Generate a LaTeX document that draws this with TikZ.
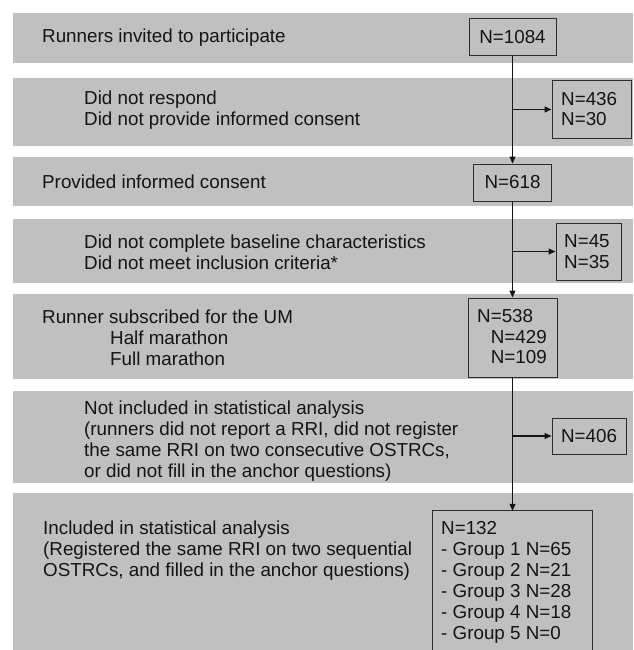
\documentclass[tikz,border=0pt]{standalone}
\usepackage{fontspec}
\setmainfont{Liberation Sans}
\usetikzlibrary{arrows.meta}
\definecolor{bandgray}{RGB}{192,192,192}
\definecolor{boxline}{RGB}{45,45,45}
\definecolor{arrowcol}{RGB}{20,20,20}
\newcommand\diagfont{\fontsize{18.8}{21}\selectfont}
\begin{document}
\begin{tikzpicture}[x=1pt,y=-1pt,
  txt/.style={anchor=base west, inner sep=0pt, font=\diagfont, text=black!92},
  txtr/.style={anchor=base east, inner sep=0pt, font=\diagfont, text=black!92},
  nbox/.style={draw=boxline, line width=1pt, fill=bandgray, inner sep=0pt, font=\diagfont, text=black!92},
  arr/.style={draw=arrowcol, line width=1.2pt, -{Triangle[length=7pt,width=6pt]}},
  band/.style={fill=bandgray}]
\useasboundingbox (0,0) rectangle (633,650);
\fill[white] (0,0) rectangle (633,650);
% bands
\fill[band] (13,13) rectangle (633,63);
\fill[band] (13,78) rectangle (633,146);
\fill[band] (13,157) rectangle (633,206);
\fill[band] (13,219) rectangle (633,283);
\fill[band] (13,294) rectangle (633,379);
\fill[band] (13,391) rectangle (633,483);
\fill[band] (13,493) rectangle (633,650);
% boxes
\node[nbox, minimum width=87pt, minimum height=37pt] (b1) at (512.5,37.5) {N=1084};
\node[nbox, minimum width=79pt, minimum height=57pt] (b2) at (591.5,109.5) {};
\node[nbox, minimum width=78pt, minimum height=37pt] (b3) at (512.5,182.5) {N=618};
\node[nbox, minimum width=65pt, minimum height=57pt] (b4) at (588.5,251.5) {};
\node[nbox, minimum width=89pt, minimum height=79pt] (b5) at (512.5,337.5) {};
\node[nbox, minimum width=74pt, minimum height=36pt] (b6) at (589,436) {N=406};
\node[fill=bandgray, inner sep=0pt, minimum width=159pt, minimum height=139pt] (b7) at (512.5,580.5) {};
\draw[boxline, line width=1pt] (b7.south west) -- (b7.north west) -- (b7.north east) -- (b7.south east);
% box texts
\node[txt] (b2a) at (561,106) {N=436};
\node[txt] (b2b) at (561,125) {N=30};
\node[txt] (b4a) at (564,247) {N=45};
\node[txt] (b4b) at (564,268) {N=35};
\node[txt] (b5a) at (477,322) {N=538};
\node[txtr] (b5b) at (547,343) {N=429};
\node[txtr] (b5c) at (547,363) {N=109};
\node[txt] (b7a) at (441,534) {N=132};
\node[txt] (b7b) at (441,555) {- Group 1 N=65};
\node[txt] (b7c) at (441,576) {- Group 2 N=21};
\node[txt] (b7d) at (441,597) {- Group 3 N=28};
\node[txt] (b7e) at (441,618) {- Group 4 N=18};
\node[txt] (b7f) at (441,639) {- Group 5 N=0};
% left texts
\node[txt] (l1) at (42,43) {Runners invited to participate};
\node[txt] (l2a) at (84,105) {Did not respond};
\node[txt] (l2b) at (84,125) {Did not provide informed consent};
\node[txt] (l3) at (42,188) {Provided informed consent};
\node[txt] (l4a) at (84,248) {Did not complete baseline characteristics};
\node[txt] (l4b) at (84,269) {Did not meet inclusion criteria*};
\node[txt] (l5a) at (42,323) {Runner subscribed for the UM};
\node[txt] (l5b) at (110,344) {Half marathon};
\node[txt] (l5c) at (110,365) {Full marathon};
\node[txt] (l6a) at (84,414) {Not included in statistical analysis};
\node[txt] (l6b) at (84,435) {(runners did not report a RRI, did not register};
\node[txt] (l6c) at (84,456) {the same RRI on two consecutive OSTRCs,};
\node[txt] (l6d) at (84,477) {or did not fill in the anchor questions)};
\node[txt] (l7a) at (43,534) {Included in statistical analysis};
\node[txt] (l7b) at (43,555) {(Registered the same RRI on two sequential};
\node[txt] (l7c) at (43,576) {OSTRCs, and filled in the anchor questions)};
% connectors
\coordinate (j1) at (512.5,109.5);
\coordinate (j2) at (512.5,251.5);
\coordinate (j3) at (512.5,436);
\draw[arr] (b1.south) -- (b3.north);
\draw[arr] (j1) -- (b2.west);
\draw[arr] (b3.south) -- (b5.north);
\draw[arr] (j2) -- (b4.west);
\draw[arr] (b5.south) -- (b7.north);
\draw[arr] (j3) -- (b6.west);
\end{tikzpicture}
\end{document}
